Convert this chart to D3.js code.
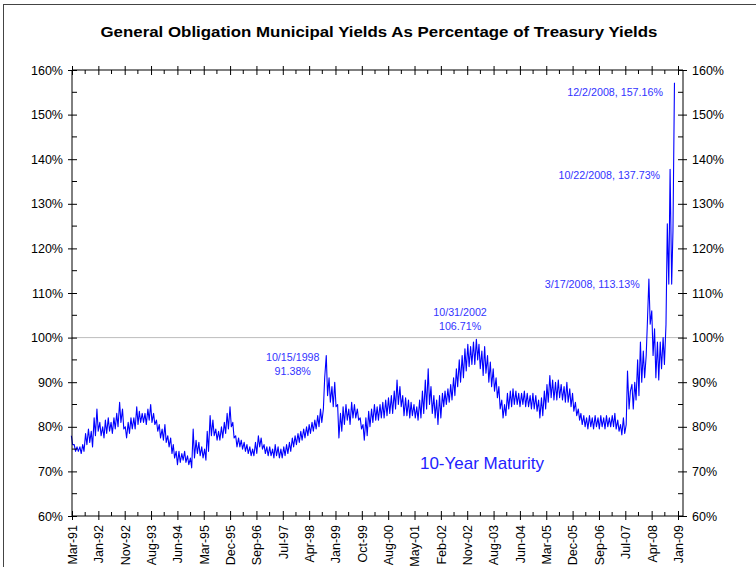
<!DOCTYPE html>
<html><head><meta charset="utf-8">
<script src="https://cdn.jsdelivr.net/npm/d3@7"></script>
<style>
html,body{margin:0;padding:0;background:#fff;}
svg{display:block;font-family:"Liberation Sans",Arial,sans-serif;}
</style></head>
<body>
<svg id="chart" width="756" height="567"></svg>
<script>
// Category tick labels (every 200 business days)
const tickLabels = ["Mar-91","Jan-92","Nov-92","Aug-93","Jun-94","Mar-95","Dec-95","Sep-96","Jul-97","Apr-98","Jan-99","Oct-99","Aug-00","May-01","Feb-02","Nov-02","Aug-03","Jun-04","Mar-05","Dec-05","Sep-06","Jul-07","Apr-08","Jan-09"];
const yTicks = [60,70,80,90,100,110,120,130,140,150,160];

// Ratio values (%), two readings per month (early, late), Mar-1991 .. Dec-2008
const y1991 = [78,76, 76,74.5, 75.5,74.5, 75.5,74, 76,74.5, 78.5,76, 79.5,76.5, 79,75.5, 82,78, 84,79];
const y1992 = [81,78, 80,77.5, 81.5,78.5, 82,79, 81,78.5, 82,79.5, 83,80, 85.5,81, 84,79.5, 80,77.5, 81,78.5, 82,79.5];
const y1993 = [82,79.5, 84.5,80.5, 83.5,81, 83,81, 83,80.5, 84,81.5, 85,81, 83,80.5, 81.5,79, 80.5,77.5, 79.5,77, 80.5,76.5];
const y1994 = [78,75.5, 77.5,74, 76,73, 74.5,71.5, 74.5,72, 74,72.5, 74.5,72, 73.5,71.5, 73,70.8, 79.5,73, 77,74, 76.5,73.5];
const y1995 = [75.5,73, 75,72.5, 79,74.5, 82.5,78, 81.5,78, 79.5,77, 79,77, 80,77.5, 81,78.5, 83,79.5, 84.5,80, 81,77.5];
const y1996 = [78,75.5, 77.5,75.5, 77,75, 76.5,74.5, 76,74, 75.5,73.5, 75,73.5, 76.5,74, 78,75.5, 77.5,75, 76,74, 75.5,73.5];
const y1997 = [75.5,73.5, 75,73, 76,73.5, 75.5,73, 75,73, 75.5,73.5, 76,74, 76.5,74.5, 77.5,75.5, 78,76, 78.5,76.5, 79,77];
const y1998 = [79.5,77.5, 80,78, 80.5,78.5, 81,79, 81.5,79.5, 82.5,80, 84,81, 84,91, 96,87, 91,85.5, 89,84.5, 90,84.5];
const y1999 = [85,77.5, 83,79, 84.5,80.5, 85,81.5, 84,80.5, 85.5,82, 85,82, 84,81.5, 82,79.5, 80.5,77, 82,78, 83.5,80];
const y2000 = [84,81, 85,81.5, 84.5,81.5, 85,82, 85.5,82, 86,82.5, 86.5,83, 87,83, 88,84, 90.5,85, 89,84.5, 87,82.5];
const y2001 = [86.5,82.5, 86,82, 85.5,82.5, 85,82, 84.5,81.5, 86,82, 88,83, 90.5,84, 93,85, 89,83, 87,82, 86,80.5];
const y2002 = [87,82, 87.5,84.5, 88,85, 88.5,85.5, 89.5,86, 91,87, 93,89, 95,90, 96,91, 97.5,92.5, 98.5,93.5, 98,94];
const y2003 = [99,94, 99.6,95, 98.5,93, 97,91.5, 98,92, 96,90, 94.5,89, 93,88, 91,86.5, 89,84, 86,82, 85,82.5];
const y2004 = [87.5,84, 88,84.5, 88.5,85, 88,85, 87.5,84.5, 87.5,85, 88,84.5, 87.5,84.5, 87,84, 87.5,84, 87,83.5, 86,82];
const y2005 = [86.5,82.5, 88,84, 89.5,85.5, 91.5,86.5, 90.5,86, 90,86, 90.5,86.5, 89.5,86, 89,85.5, 90,85.5, 88.5,84.5, 87.5,83.5];
const y2006 = [85.5,82.5, 84,81.5, 83,80.5, 82.5,80, 82,79.5, 82.5,80, 82,79.5, 82.5,80, 82,79.5, 82.5,80, 82,79.5, 82.5,80];
const y2007 = [82,80, 82.5,80, 83,79.5, 81.5,79, 80.5,78.2, 82,78.5, 80.5,92.5, 84,88, 89.5,84, 90,86, 95,87, 99,90];
const y2008 = [97,91, 96,104, 113.13,103, 106,96, 102,91, 99,90.5, 99,93, 100,94, 103,125.5, 112,137.73, 112,124, 157.16];

const ratioValues = [].concat(y1991,y1992,y1993,y1994,y1995,y1996,y1997,y1998,y1999,y2000,y2001,y2002,y2003,y2004,y2005,y2006,y2007,y2008);

const annotations = [
  {lines:["10/15/1998","91.38%"], date:"1998-08-01", anchor:"middle"},
  {lines:["10/31/2002","106.71%"], date:"2002-10-20", anchor:"middle"},
  {lines:["3/17/2008, 113.13%"], date:"2008-03-17", anchor:"end"},
  {lines:["10/22/2008, 137.73%"], date:"2008-10-22", anchor:"end"},
  {lines:["12/2/2008, 157.16%"], date:"2008-12-02", anchor:"end"}
];

// Build dated series
const series = ratioValues.map((v,k)=>({
  date: new Date(1991, 2 + Math.floor(k/2), k%2 ? 22 : 8),
  value: v
}));

const svg = d3.select("#chart");
const L = 72, R = 683, T = 70, B = 516;
const FONT = "Liberation Sans, Arial, sans-serif";

const x = d3.scaleTime().domain([new Date(1991,2,15), new Date(2009,0,15)]).range([72, 678]);
const xCat = d3.scalePoint().domain(tickLabels).range([x(new Date(1991,2,15)), x(new Date(2009,0,15))]);
const y = d3.scaleLinear().domain([60,160]).range([B, T]);

// outer frame
svg.append("rect").attr("x",3.5).attr("y",4.5).attr("width",800).attr("height",700)
  .attr("fill","none").attr("stroke","#444").attr("stroke-width",1);

// title
svg.append("text").attr("x",379).attr("y",37).attr("text-anchor","middle")
  .attr("font-size","15.5px").attr("font-weight","bold").attr("fill","#000")
  .attr("textLength",557).attr("lengthAdjust","spacingAndGlyphs")
  .text("General Obligation Municipal Yields As Percentage of Treasury Yields");

// 100% reference line
svg.append("line").attr("x1",L).attr("x2",R).attr("y1",y(100)).attr("y2",y(100))
  .attr("stroke","#bdbdbd").attr("stroke-width",1);

// data line
const line = d3.line().x(d=>x(d.date)).y(d=>y(d.value));
svg.append("path").datum(series).attr("d",line).attr("fill","none")
  .attr("stroke","#0000ff").attr("stroke-width",1.1).attr("stroke-linejoin","round");

const axisColor = "#000";
function styleAxis(g){ g.select(".domain").remove(); g.selectAll("line").attr("stroke",axisColor); }

// left axis
const gl = svg.append("g").attr("transform",`translate(${L},0)`)
  .call(d3.axisLeft(y).tickValues(yTicks).tickFormat(d=>d+"%").tickSize(4).tickPadding(5));
styleAxis(gl);
gl.selectAll(".tick line").attr("x1",-4).attr("x2",5);
gl.selectAll("text").attr("font-size","12.5px").attr("fill","#000").attr("font-family",FONT);

// right axis
const gr = svg.append("g").attr("transform",`translate(${R},0)`)
  .call(d3.axisRight(y).tickValues(yTicks).tickFormat(d=>d+"%").tickSize(4).tickPadding(5));
styleAxis(gr);
gr.selectAll(".tick line").attr("x1",-5).attr("x2",4);
gr.selectAll("text").attr("font-size","12.5px").attr("fill","#000").attr("font-family",FONT);

// minor y ticks
const yMinor = yTicks.slice(0,-1).map(v=>v+5);
svg.append("g").selectAll("line").data(yMinor).join("line")
  .attr("x1",L).attr("x2",L+5).attr("y1",d=>y(d)).attr("y2",d=>y(d)).attr("stroke",axisColor);
svg.append("g").selectAll("line").data(yMinor).join("line")
  .attr("x1",R-5).attr("x2",R).attr("y1",d=>y(d)).attr("y2",d=>y(d)).attr("stroke",axisColor);

// bottom axis
const gb = svg.append("g").attr("transform",`translate(0,${B})`)
  .call(d3.axisBottom(xCat).tickSize(4).tickPadding(0));
styleAxis(gb);
gb.selectAll(".tick line").attr("y1",-5).attr("y2",4);
gb.selectAll("text").attr("font-size","12.5px").attr("fill","#000")
  .attr("font-family",FONT)
  .attr("text-anchor","end").attr("transform","translate(0,9) rotate(-90)")
  .attr("x",0).attr("y",0).attr("dy","0.35em");

// top axis
const gt = svg.append("g").attr("transform",`translate(0,${T})`)
  .call(d3.axisTop(xCat).tickSize(4).tickFormat(""));
styleAxis(gt);
gt.selectAll(".tick line").attr("y1",-4).attr("y2",5);

// minor x ticks
const xMinor = tickLabels.slice(0,-1).map((t,i)=>(xCat(t)+xCat(tickLabels[i+1]))/2);
svg.append("g").selectAll("line").data(xMinor).join("line")
  .attr("x1",d=>d).attr("x2",d=>d).attr("y1",B-4).attr("y2",B).attr("stroke",axisColor);
svg.append("g").selectAll("line").data(xMinor).join("line")
  .attr("x1",d=>d).attr("x2",d=>d).attr("y1",T).attr("y2",T+4).attr("stroke",axisColor);

// plot border lines
svg.append("line").attr("x1",L).attr("x2",L).attr("y1",T).attr("y2",B).attr("stroke",axisColor);
svg.append("line").attr("x1",R).attr("x2",R).attr("y1",T).attr("y2",B).attr("stroke",axisColor);
svg.append("line").attr("x1",L).attr("x2",R).attr("y1",T).attr("y2",T).attr("stroke",axisColor);
svg.append("line").attr("x1",L).attr("x2",R).attr("y1",B).attr("y2",B).attr("stroke",axisColor);

// annotations
const annY = {"1998-08-01":[361,375], "2002-10-20":[316,330], "2008-03-17":[288], "2008-10-22":[179], "2008-12-02":[96]};
const annX = {"1998-08-01":-30, "2002-10-20":-6, "2008-03-17":-10, "2008-10-22":-10, "2008-12-02":-11};
annotations.forEach(a=>{
  const d = new Date(a.date);
  a.lines.forEach((t,i)=>{
    svg.append("text").attr("x", x(d)+annX[a.date]).attr("y", annY[a.date][i])
      .attr("text-anchor",a.anchor).attr("font-size","10.7px").attr("fill","#3333ff").text(t);
  });
});

svg.append("text").attr("x",482).attr("y",469).attr("text-anchor","middle")
  .attr("font-size","17px").attr("fill","#2222ff").text("10-Year Maturity");
</script>
</body></html>
